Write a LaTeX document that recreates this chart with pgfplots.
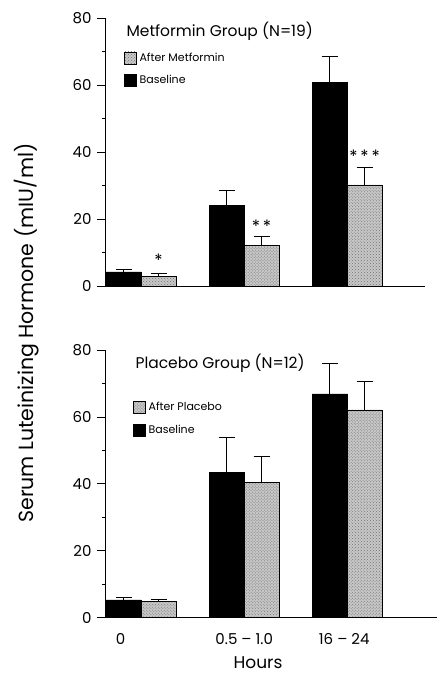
\documentclass[border=0pt]{standalone}
\usepackage{pgfplots}
\pgfplotsset{compat=1.18}
\usepackage{fontspec}
\setmainfont{Poppins}
\usetikzlibrary{patterns}

\definecolor{stipple}{gray}{0.78}

\pgfplotsset{
  panel/.style={
    scale only axis,
    width=320bp, height=268bp,
    xmin=-0.35, xmax=2.757,
    ymin=0, ymax=80,
    axis lines*=left,
    axis line style={-, line width=0.8pt},
    ytick={0,20,40,60,80},
    minor ytick={10,30,50,70},
    tick align=outside,
    major tick length=8bp,
    minor tick length=3bp,
    tick style={line width=0.7pt, black},
    xtick style={draw=none},
    /pgf/number format/assume math mode=true,
    tick label style={font=\fontsize{15bp}{17bp}\selectfont},
    yticklabel style={xshift=-2bp},
    clip=false,
    ybar, bar width=35bp,
    legend cell align=left,
    reverse legend,
    legend image code/.code={\draw[#1, line width=0.5pt] (0bp,-6bp) rectangle (12bp,6bp);},
  },
  base/.style={fill=black, draw=black, bar shift=-17.5bp,
    error bars/.cd, y dir=plus, y explicit,
    error bar style={line width=0.8pt, black},
    error mark options={rotate=90, mark size=8bp, line width=0.8pt, black}},
  after/.style={fill=stipple, draw=black, line width=0.5pt, bar shift=17.5bp,
    postaction={pattern=crosshatch dots, pattern color=black!55},
    error bars/.cd, y dir=plus, y explicit,
    error bar style={line width=0.8pt, black},
    error mark options={rotate=90, mark size=8bp, line width=0.8pt, black}},
}

\begin{document}
\begin{tikzpicture}[x=1bp,y=1bp]
\useasboundingbox (0,0) rectangle (437,673);

% Top panel: Metformin group
\begin{axis}[panel, at={(105bp,387bp)}, anchor=south west,
  xtick=\empty,
  legend style={at={(axis description cs:0.059,0.875)}, anchor=north west,
    draw=none, fill=none, font=\fontsize{11bp}{13bp}\selectfont,
    row sep=10bp, inner sep=0pt, nodes={inner xsep=3bp, inner ysep=1bp}},
]
\addplot[base] coordinates {(0,4.2) +- (0,0.7) (1,24.0) +- (0,4.5) (2,60.8) +- (0,7.6)};
\addlegendentry{Baseline}
\addplot[after] coordinates {(0,2.8) +- (0,0.9) (1,12.2) +- (0,2.6) (2,30.2) +- (0,5.3)};
\addlegendentry{After Metformin}
\node[anchor=west, font=\fontsize{15.5bp}{17bp}\selectfont] at (axis cs:-0.175,76) {Metformin Group (N=19)};
\node[font=\fontsize{17bp}{18bp}\selectfont] at (axis cs:0.17,7.6) {*};
\node[font=\fontsize{17bp}{18bp}\selectfont] at (axis cs:1.17,17.8) {*\,*};
\node[font=\fontsize{17bp}{18bp}\selectfont] at (axis cs:2.17,38.6) {*\,*\,*};
\end{axis}

% Bottom panel: Placebo group
\begin{axis}[panel, at={(105bp,55.3bp)}, anchor=south west,
  height=267.7bp, xmax=2.87, width=332bp,
  xtick={-0.2,1,1.97}, xticklabels={0, 0.5 -- 1.0, 16 -- 24},
  xticklabel style={yshift=-4bp},
  xlabel={Hours},
  xlabel style={font=\fontsize{17bp}{19bp}\selectfont, at={(axis description cs:0.461,-0.188)}, anchor=base, inner sep=0pt},
  legend style={at={(axis description cs:0.084,0.81)}, anchor=north west,
    draw=none, fill=none, font=\fontsize{11bp}{13bp}\selectfont,
    row sep=10bp, inner sep=0pt, nodes={inner xsep=3bp, inner ysep=1bp}},
]
\addplot[base] coordinates {(0,5.3) +- (0,0.8) (1,43.5) +- (0,10.3) (2,66.9) +- (0,9.2)};
\addlegendentry{Baseline}
\addplot[after] coordinates {(0,4.8) +- (0,0.8) (1,40.4) +- (0,7.9) (2,62.1) +- (0,8.5)};
\addlegendentry{After Placebo}
\node[anchor=west, font=\fontsize{15.5bp}{17bp}\selectfont] at (axis cs:-0.088,76.1) {Placebo Group (N=12)};
\end{axis}

\node[rotate=90, font=\fontsize{20.5bp}{23bp}\selectfont] at (27,340) {Serum Luteinizing Hormone (mIU/ml)};
\end{tikzpicture}
\end{document}
